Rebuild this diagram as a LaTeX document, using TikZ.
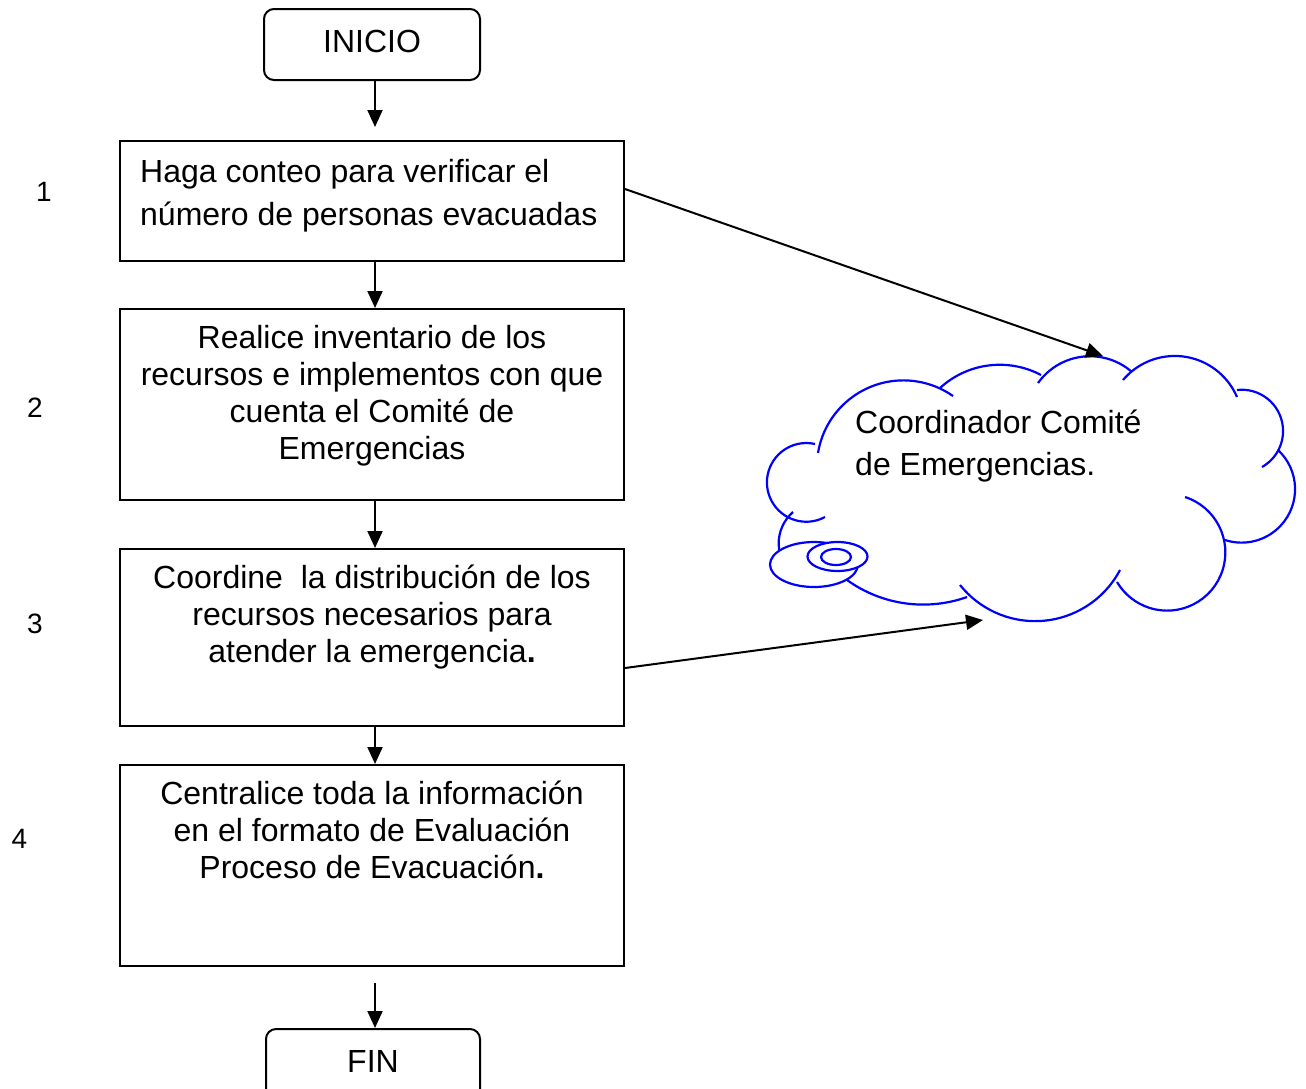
\documentclass[tikz,border=0pt]{standalone}
\usepackage{fontspec}
\setmainfont{Liberation Sans}
\usetikzlibrary{arrows.meta}
% circular arc through three points (screen coordinates, y downwards), clockwise
\newcommand\cloudarc[6]{%
 \edef\CDd{\fpeval{2*((#1)*((#4)-(#6))+(#3)*((#6)-(#2))+(#5)*((#2)-(#4)))}}%
 \edef\CCa{\fpeval{(((#1)^2+(#2)^2)*((#4)-(#6))+((#3)^2+(#4)^2)*((#6)-(#2))+((#5)^2+(#6)^2)*((#2)-(#4)))/(\CDd)}}%
 \edef\CCb{\fpeval{(((#1)^2+(#2)^2)*((#5)-(#3))+((#3)^2+(#4)^2)*((#1)-(#5))+((#5)^2+(#6)^2)*((#3)-(#1)))/(\CDd)}}%
 \edef\CRr{\fpeval{sqrt(((#1)-(\CCa))^2+((#2)-(\CCb))^2)}}%
 \edef\CAa{\fpeval{atand((\CCb)-(#2),(#1)-(\CCa))}}%
 \edef\CAc{\fpeval{atand((\CCb)-(#6),(#5)-(\CCa))}}%
 \edef\CAc{\fpeval{(\CAc)>(\CAa) ? (\CAc)-360 : (\CAc)}}%
 \draw[cloudline] (#1,-#2) arc[start angle=\CAa, end angle=\CAc, radius=\CRr];%
}
\tikzset{
  box/.style={draw, line width=2pt, inner sep=0pt, minimum width=504},
  term/.style={draw, line width=2pt, rounded corners=10pt, inner sep=0pt},
  txt/.style={inner sep=0pt, font=\fontsize{32}{37}\selectfont, align=center},
  num/.style={inner sep=0pt, font=\fontsize{28}{32}\selectfont},
  arr/.style={-{Triangle[length=17pt,width=15pt]}, line width=2pt},
  cloudline/.style={draw=blue, line width=2.2pt}
}
\begin{document}
\begin{tikzpicture}[x=1pt,y=1pt]
\useasboundingbox[fill=white] (0,0) rectangle (1306,-1088);

% terminals
\node[term, minimum width=216, minimum height=71] (ini) at (372,-44.5) {};
\node[txt, anchor=base] (tini) at (372,-52) {INICIO};
\node[term, minimum width=214, minimum height=70] (fin) at (373,-1064) {};
\node[txt, anchor=base] (tfin) at (373,-1072) {FIN};

% process boxes
\node[box, minimum height=120] (b1) at (372,-201) {};
\node[box, minimum height=191] (b2) at (372,-404.5) {};
\node[box, minimum height=177] (b3) at (372,-637.5) {};
\node[box, minimum height=201] (b4) at (372,-865.5) {};

% (base anchor of a multi-line node = baseline of its last line)
\node[txt, align=left, anchor=base west, font=\fontsize{32}{43}\selectfont] (t1) at (140,-225)
  {Haga conteo para verificar el\\número de personas evacuadas};
\node[txt, anchor=base] (t2) at (372,-459)
  {Realice inventario de los\\recursos e implementos con que\\cuenta el Comité de\\Emergencias};
\node[txt, anchor=base] (t3) at (372,-662)
  {Coordine~ la distribución de los\\recursos necesarios para\\atender la emergencia\textbf{.}};
\node[txt, anchor=base] (t4) at (372,-878)
  {Centralice toda la información\\en el formato de Evaluación\\Proceso de Evacuación\textbf{.}};

% step numbers
\node[num, anchor=base] (n1) at (44,-201) {1};
\node[num, anchor=base] (n2) at (35,-417) {2};
\node[num, anchor=base] (n3) at (35,-633) {3};
\node[num, anchor=base] (n4) at (19.5,-848) {4};

% cloud
\cloudarc{818}{453}{893}{381}{953}{396}
\cloudarc{940}{388}{993}{365}{1041}{375}
\cloudarc{1038}{383}{1080}{357}{1132}{372}
\cloudarc{1123}{380}{1177}{356}{1237}{397}
\cloudarc{1237}{390}{1283}{433}{1262}{467}
\cloudarc{1278}{450}{1295}{487}{1225}{540}
\cloudarc{1185}{497}{1224}{540}{1117}{582}
\cloudarc{1120}{570}{1040}{621}{960}{585}
\cloudarc{967}{597}{903}{603}{847}{580}
\cloudarc{800}{580}{780}{533}{793}{512}
\cloudarc{825}{517}{767}{480}{815}{444}
\draw[cloudline, fill=white] (814,-564.5) ellipse [x radius=44, y radius=22.5];
\draw[cloudline, fill=white] (837.5,-556.5) ellipse [x radius=30, y radius=14.5];
\draw[cloudline, fill=white] (836,-557) ellipse [x radius=15, y radius=8];
\node[txt, align=left, anchor=base west, font=\fontsize{32}{42}\selectfont] (ctext) at (855,-475)
  {Coordinador Comité\\de Emergencias.};

% connectors
\coordinate (ax) at (375,0);
\coordinate (ca) at (1103,-356);
\coordinate (cb) at (983,-620);
\draw[arr, shorten >=13pt] (ini.south -| ax) -- (b1.north -| ax);
\draw[arr] (b1.south -| ax) -- (b2.north -| ax);
\draw[arr] (b2.south -| ax) -- (b3.north -| ax);
\draw[arr] (b3.south -| ax) -- (b4.north -| ax);
\draw[arr, shorten <=16pt] (b4.south -| ax) -- (fin.north -| ax);
\draw[arr] ([yshift=12pt]b1.east) -- (ca);
\draw[arr] ([yshift=-30.5pt]b3.east) -- (cb);
\end{tikzpicture}
\end{document}
